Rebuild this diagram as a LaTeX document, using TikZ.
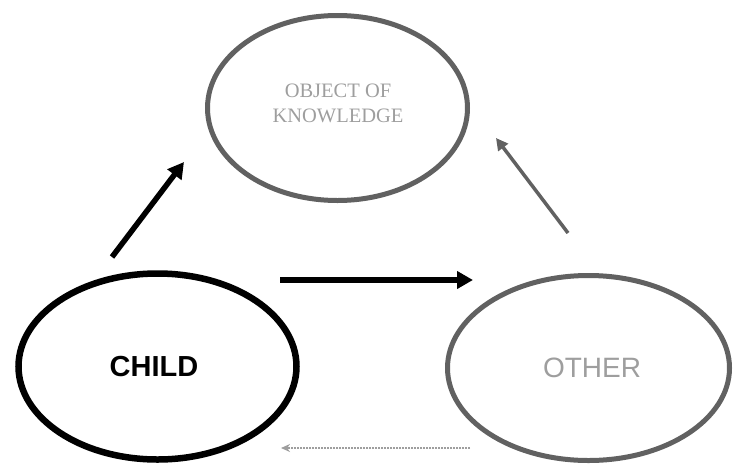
\documentclass[tikz,border=0pt]{standalone}
\usepackage{fontspec}
\setmainfont{Liberation Serif}
\newfontfamily\arialfont{Liberation Sans}
\usetikzlibrary{shapes.geometric,arrows.meta}
\definecolor{pencil}{gray}{0.38}
\definecolor{faint}{gray}{0.62}
\tikzset{
  blackoval/.style={ellipse, draw=black, line width=6.5pt, inner sep=0pt},
  greyoval/.style={ellipse, draw=pencil, line width=5pt, inner sep=0pt},
  boldarrow/.style={line width=5.5pt, -{Triangle[length=16pt,width=17pt]}},
  greyarrow/.style={draw=pencil, line width=3.5pt, -{Triangle[length=12pt,width=12pt]}},
  faintarrow/.style={draw=faint, line width=2pt, densely dotted, -{Stealth[length=9pt,width=8pt]}},
}
\begin{document}
\begin{tikzpicture}[x=1pt,y=-1pt]
  \useasboundingbox (0,0) rectangle (733,469);
  % the three ovals
  \node[greyoval, minimum width=260pt, minimum height=185pt] (object) at (337.5,108) {};
  \node[blackoval, minimum width=278pt, minimum height=186pt] (child) at (157.5,366.5) {};
  \node[greyoval, minimum width=282pt, minimum height=185pt] (other) at (588.5,368) {};
  % their labels
  \node[text=faint, font=\fontsize{20.5}{25}\selectfont, align=center] (objtext) at (338,103) {OBJECT OF\\KNOWLEDGE};
  \node[font=\arialfont\bfseries\fontsize{29}{34}\selectfont] (childtext) at (154,367) {CHILD};
  \node[text=faint, font=\arialfont\fontsize{28}{34}\selectfont] (othertext) at (592,368) {OTHER};
  % arrow end points
  \coordinate (co-s) at (112,257);
  \coordinate (co-e) at (184,162);
  \coordinate (ch-s) at (280,280);
  \coordinate (ch-e) at (473,280);
  \coordinate (oo-s) at (568,233);
  \coordinate (oo-e) at (496,138);
  \coordinate (oc-s) at (470,448);
  \coordinate (oc-e) at (281,448);
  % connectors
  \draw[boldarrow] (co-s) -- (co-e);
  \draw[boldarrow] (ch-s) -- (ch-e);
  \draw[greyarrow] (oo-s) -- (oo-e);
  \draw[faintarrow] (oc-s) -- (oc-e);
\end{tikzpicture}
\end{document}
